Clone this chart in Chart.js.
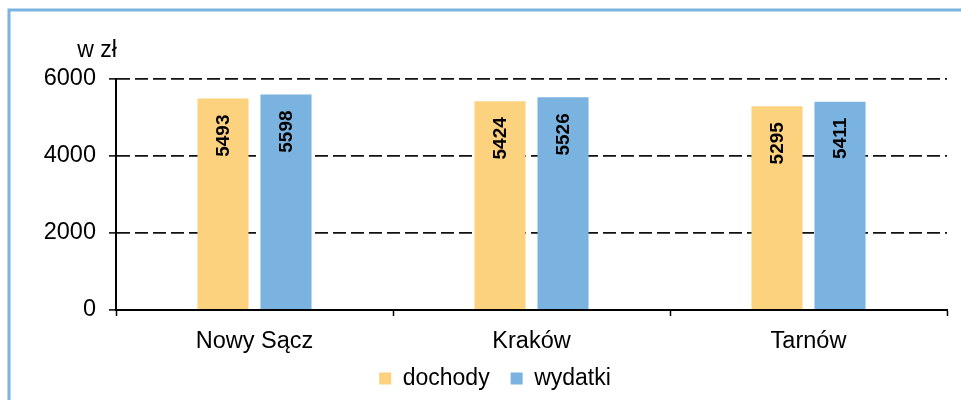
<!DOCTYPE html>
<html>
<head>
<meta charset="utf-8">
<script src="https://cdn.jsdelivr.net/npm/chart.js@4/dist/chart.umd.min.js"></script>
<style>
  html, body { margin: 0; padding: 0; background: #ffffff; }
  #wrap { width: 961px; height: 400px; position: relative; }
</style>
</head>
<body>
<div id="wrap"><canvas id="c" width="961" height="400"></canvas></div>
<script>
// Categories and series
const cities = ['Nowy Sącz', 'Kraków', 'Tarnów'];
const dochody = [5493, 5424, 5295];
const wydatki = [5598, 5526, 5411];
const seriesNames = ['dochody', 'wydatki'];
const yTicks = [0, 2000, 4000, 6000];
const unitLabel = 'w zł';

const FONT = "'Liberation Sans', Arial, sans-serif";
const AXIS_SIZE = 23.5;
const LEGEND_SIZE = 23;
const YELLOW = '#FCD27F';
const BLUE = '#7AB2E0';

// Light blue frame around the whole figure
const framePlugin = {
  id: 'frame',
  beforeDraw(chart) {
    const ctx = chart.ctx;
    ctx.save();
    ctx.fillStyle = '#ffffff';
    ctx.fillRect(0, 0, chart.width, chart.height);
    ctx.strokeStyle = '#7AB2E0';
    ctx.lineWidth = 3;
    ctx.strokeRect(9, 10, 2000, 2000);
    ctx.restore();
  }
};

// Unit caption above the value axis
const unitPlugin = {
  id: 'unit',
  afterDraw(chart) {
    const {ctx, chartArea} = chart;
    ctx.save();
    ctx.font = LEGEND_SIZE + 'px ' + FONT;
    ctx.fillStyle = '#000';
    ctx.textAlign = 'center';
    ctx.textBaseline = 'alphabetic';
    ctx.fillText(unitLabel, chartArea.left - 19, chartArea.top - 22);
    ctx.restore();
  }
};

// Vertical value labels inside the top of each bar
const valueLabelPlugin = {
  id: 'valueLabels',
  afterDatasetsDraw(chart) {
    const ctx = chart.ctx;
    ctx.save();
    ctx.font = 'bold 19px ' + FONT;
    ctx.fillStyle = '#000';
    chart.data.datasets.forEach((ds, i) => {
      const meta = chart.getDatasetMeta(i);
      meta.data.forEach((bar, j) => {
        ctx.save();
        ctx.translate(bar.x + 1, bar.y + 16);
        ctx.rotate(-Math.PI / 2);
        ctx.textAlign = 'right';
        ctx.textBaseline = 'middle';
        ctx.fillText(String(ds.data[j]), 0, 0);
        ctx.restore();
      });
    });
    ctx.restore();
  }
};

new Chart(document.getElementById('c'), {
  type: 'bar',
  data: {
    labels: cities,
    datasets: [
      { label: seriesNames[0], data: dochody, backgroundColor: YELLOW, borderWidth: 0 },
      { label: seriesNames[1], data: wydatki, backgroundColor: BLUE, borderWidth: 0 }
    ]
  },
  options: {
    responsive: false,
    animation: false,
    devicePixelRatio: 1,
    categoryPercentage: 0.455,
    barPercentage: 0.81,
    layout: { padding: { top: 79, right: 14, bottom: 0, left: 43 } },
    plugins: {
      tooltip: { enabled: false },
      legend: {
        position: 'bottom',
        labels: {
          font: { family: FONT, size: LEGEND_SIZE },
          color: '#000',
          boxWidth: 12,
          boxHeight: 12,
          padding: 21
        }
      }
    },
    scales: {
      x: {
        offset: true,
        afterFit(scale) {
          scale.height = 36;
          // let category names extend below the axis box without clipping
          scale._computeLabelArea = () => undefined;
        },
        grid: {
          display: true,
          offset: true,
          drawOnChartArea: false,
          tickLength: 6,
          tickColor: '#000',
          tickWidth: 1.5
        },
        border: { display: true, color: '#000', width: 2 },
        ticks: {
          font: { family: FONT, size: AXIS_SIZE },
          color: '#000',
          padding: 11
        }
      },
      y: {
        min: 0,
        max: 6000,
        afterBuildTicks(scale) { scale.ticks = yTicks.map(v => ({ value: v })); },
        afterFit(scale) {
          scale.width = 73;
          scale._computeLabelArea = () => undefined;
        },
        grid: {
          display: true,
          drawOnChartArea: true,
          color: '#111',
          lineWidth: 1.8,
          tickLength: 7,
          tickColor: '#000',
          tickWidth: 1.5
        },
        border: { display: true, color: '#000', width: 2, dash: [13, 5] },
        ticks: {
          font: { family: FONT, size: AXIS_SIZE },
          color: '#000',
          padding: 13,
          callback: (v) => String(v)
        }
      }
    }
  },
  plugins: [framePlugin, unitPlugin, valueLabelPlugin]
});
</script>
</body>
</html>
